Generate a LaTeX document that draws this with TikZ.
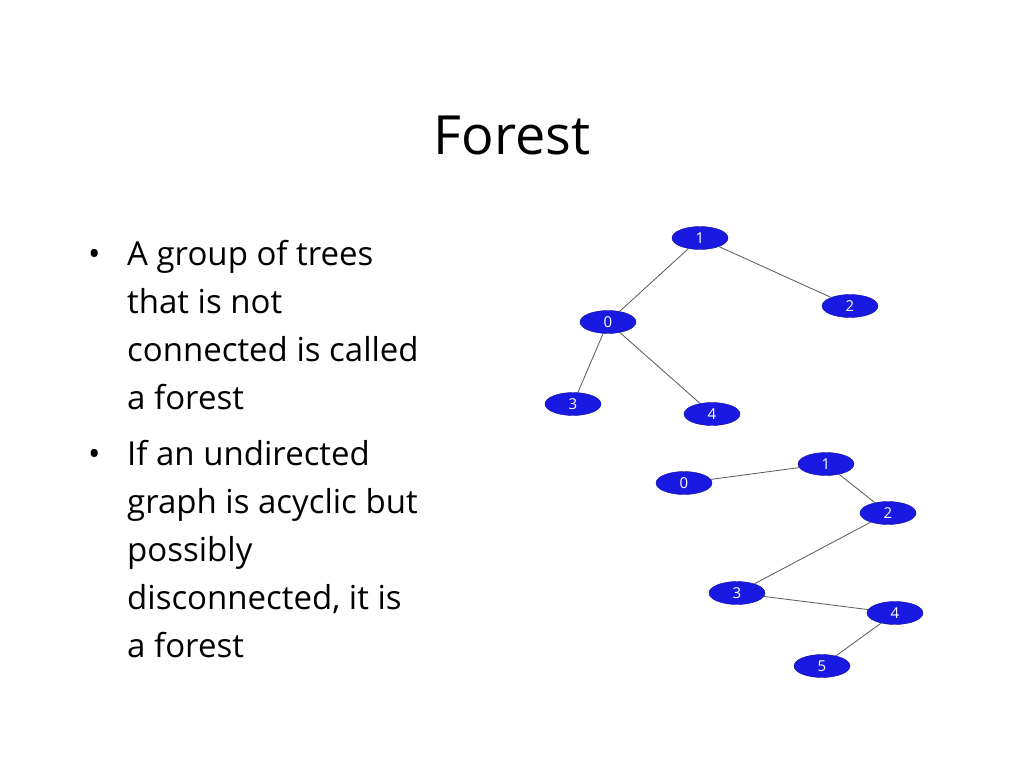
\documentclass[tikz,border=0pt]{standalone}
\usepackage{fontspec}
\setmainfont{Open Sans}
\usetikzlibrary{shapes.geometric}
\definecolor{nodeblue}{RGB}{25,25,225}
\tikzset{
  vtx/.style={ellipse,fill=nodeblue,draw=nodeblue!70!black,minimum width=56pt,minimum height=23pt,inner sep=0pt,text=white,font=\fontsize{15}{15}\selectfont},
  edge/.style={draw=gray!70!black,line width=0.8pt},
  txt/.style={anchor=base west,inner sep=0pt,font=\fontsize{33}{33}\selectfont},
}
\begin{document}
\begin{tikzpicture}[x=1pt,y=-1pt]
\useasboundingbox[fill=white] (0,0) rectangle (1024,768);
\node[inner sep=0pt,font=\fontsize{54}{54}\selectfont] (title) at (512,135) {Forest};
\node[txt] (b1) at (88,265) {•};
\node[txt] (l1) at (127,265) {A group of trees};
\node[txt] (l2) at (127,313) {that is not};
\node[txt] (l3) at (127,361) {connected is called};
\node[txt] (l4) at (127,409) {a forest};
\node[txt] (b2) at (88,465) {•};
\node[txt] (l5) at (127,465) {If an undirected};
\node[txt] (l6) at (127,513) {graph is acyclic but};
\node[txt] (l7) at (127,561) {possibly};
\node[txt] (l8) at (127,609) {disconnected, it is};
\node[txt] (l9) at (127,657) {a forest};
% tree 1
\node[vtx] (a1) at (700,238) {1};
\node[vtx] (a2) at (850,306) {2};
\node[vtx] (a0) at (608,322) {0};
\node[vtx] (a3) at (573,404) {3};
\node[vtx] (a4) at (712,414) {4};
\draw[edge] (a1)--(a0) (a1)--(a2) (a0)--(a3) (a0)--(a4);
% tree 2
\node[vtx] (c0) at (684,483) {0};
\node[vtx] (c1) at (826,464) {1};
\node[vtx] (c2) at (888,513) {2};
\node[vtx] (c3) at (737,593) {3};
\node[vtx] (c4) at (895,613) {4};
\node[vtx] (c5) at (822,666) {5};
\draw[edge] (c0)--(c1) (c1)--(c2) (c2)--(c3) (c3)--(c4) (c4)--(c5);
\end{tikzpicture}
\end{document}
